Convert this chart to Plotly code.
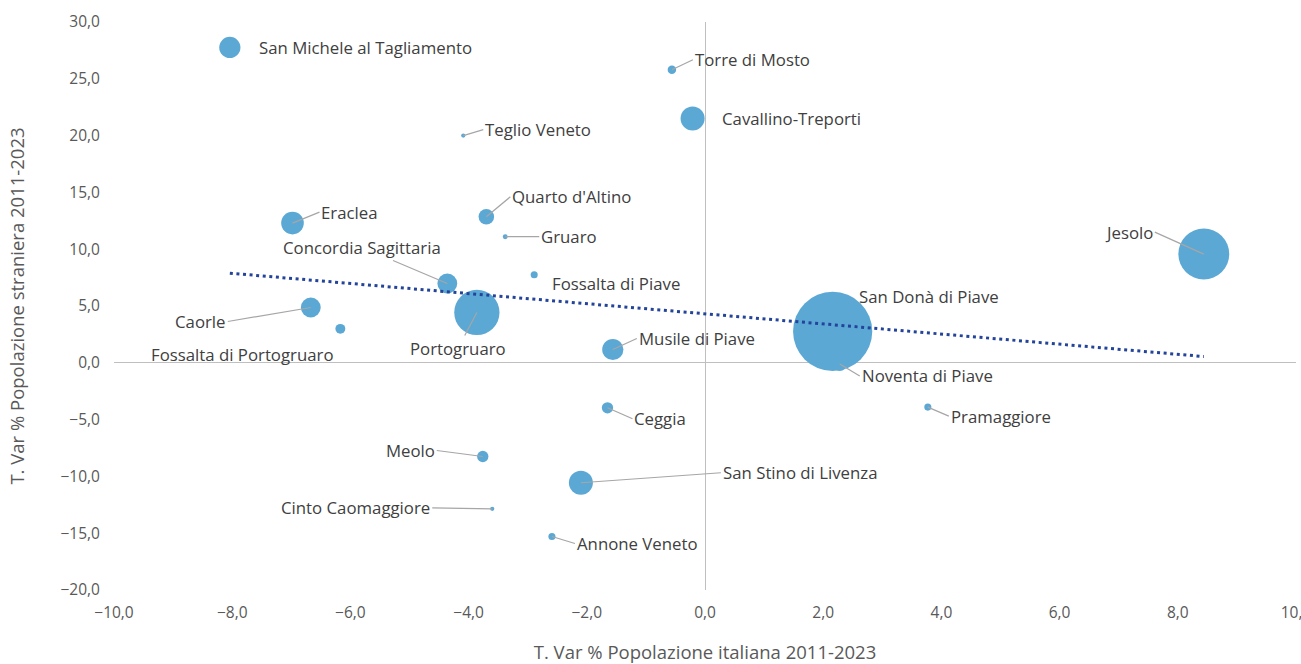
import numpy as np
import plotly.graph_objects as go

# comuni del Veneto orientale
comuni = [
    "San Michele al Tagliamento", "Torre di Mosto", "Cavallino-Treporti", "Teglio Veneto",
    "Eraclea", "Quarto d'Altino", "Gruaro", "Fossalta di Piave", "Concordia Sagittaria",
    "Portogruaro", "Caorle", "Fossalta di Portogruaro", "Musile di Piave", "San Donà di Piave",
    "Jesolo", "Noventa di Piave", "Ceggia", "Meolo", "San Stino di Livenza",
    "Cinto Caomaggiore", "Annone Veneto", "Pramaggiore",
]
var_italiani = [-8.04, -0.56, -0.21, -4.09, -6.98, -3.70, -3.38, -2.89, -4.36, -3.86, -6.67,
                -6.17, -1.56, 2.16, 8.44, 2.28, -1.65, -3.76, -2.10, -3.60, -2.59, 3.77]
var_stranieri = [27.76, 25.8, 21.5, 20.0, 12.3, 12.85, 11.1, 7.75, 6.98, 4.43, 4.87,
                 2.99, 1.17, 2.76, 9.57, -0.1, -3.96, -8.25, -10.56, -12.85, -15.29, -3.9]
# peso relativo delle bolle (area)
peso = [225, 36, 289, 9, 256, 121, 12, 25, 196, 1024, 196,
        49, 225, 3136, 1296, 100, 64, 64, 289, 9, 25, 25]

# posizione etichette: (dx, dy) in px dal punto, ancoraggio, linea guida
etichette = {
    "San Michele al Tagliamento": (27, 0, "left", False),
    "Torre di Mosto": (21, -10, "left", True),
    "Cavallino-Treporti": (27, 0, "left", False),
    "Teglio Veneto": (20, -6, "left", True),
    "Eraclea": (27, -11, "left", True),
    "Quarto d'Altino": (24, -20, "left", True),
    "Gruaro": (34, 0, "left", True),
    "Fossalta di Piave": (16, 9, "left", False),
    "Concordia Sagittaria": (-85, -36, "center", True),
    "Portogruaro": (-19, 36, "center", True),
    "Caorle": (-83, 14, "right", True),
    "Fossalta di Portogruaro": (-98, 26, "center", False),
    "Musile di Piave": (24, -11, "left", True),
    "San Donà di Piave": (24, -35, "left", False),
    "Jesolo": (-49, -22, "right", True),
    "Noventa di Piave": (20, 12, "left", True),
    "Ceggia": (25, 11, "left", True),
    "Meolo": (-46, -6, "right", True),
    "San Stino di Livenza": (140, -10, "left", True),
    "Cinto Caomaggiore": (-60, -1, "right", True),
    "Annone Veneto": (23, 7, "left", True),
    "Pramaggiore": (21, 9, "left", True),
}

FONT = "'Open Sans', 'Noto Sans', sans-serif"
GRIGIO = "#595959"

fig = go.Figure()

fig.add_trace(go.Scatter(
    x=var_italiani, y=var_stranieri, mode="markers",
    marker=dict(size=peso, sizemode="area", sizeref=1, sizemin=2, opacity=1,
                color="#5CA8D5", line=dict(width=0)),
    hoverinfo="skip",
))

# linea di tendenza lineare
m, q = np.polyfit(var_italiani, var_stranieri, 1)
tx = np.array([min(var_italiani), max(var_italiani)])
fig.add_trace(go.Scatter(
    x=tx, y=m * tx + q, mode="lines",
    line=dict(color="#23449A", width=3, dash="3px,3.6px"),
    hoverinfo="skip",
))

for nome, xv, yv in zip(comuni, var_italiani, var_stranieri):
    dx, dy, anchor, linea = etichette[nome]
    fig.add_annotation(
        x=xv, y=yv, text=nome, ax=dx, ay=dy, xanchor=anchor, yanchor="middle",
        showarrow=True, arrowhead=0, arrowwidth=1.2, standoff=0,
        arrowcolor="#A6A6A6" if linea else "rgba(0,0,0,0)",
        font=dict(family=FONT, size=16.8, color="#404040"),
    )

fig.update_layout(
    width=1301, height=664, autosize=False,
    margin=dict(l=114, r=5, t=22, b=74),
    paper_bgcolor="white", plot_bgcolor="white",
    showlegend=False, separators=",.",
    font=dict(family=FONT, color=GRIGIO),
)
fig.update_xaxes(
    range=[-10, 10], dtick=2, tickformat=".1f", showgrid=False,
    zeroline=True, zerolinecolor="#BFBFBF", zerolinewidth=1.3,
    ticks="outside", ticklen=8, tickcolor="rgba(0,0,0,0)",
    ticklabeloverflow="allow", automargin=False,
    tickfont=dict(size=15.5, color=GRIGIO),
    title=dict(text="T. Var % Popolazione italiana 2011-2023", standoff=24,
               font=dict(size=18.5, color=GRIGIO)),
)
fig.update_yaxes(
    range=[-20, 30], dtick=5, tickformat=".1f", showgrid=False,
    zeroline=True, zerolinecolor="#BFBFBF", zerolinewidth=1.3,
    ticks="outside", ticklen=10, tickcolor="rgba(0,0,0,0)",
    automargin=False,
    tickfont=dict(size=15.5, color=GRIGIO),
    title=dict(text="T. Var % Popolazione straniera 2011-2023", standoff=30,
               font=dict(size=18.5, color=GRIGIO)),
)

fig.write_html("out.html", config={"displayModeBar": False},
               post_script="document.body.style.margin='0';")
